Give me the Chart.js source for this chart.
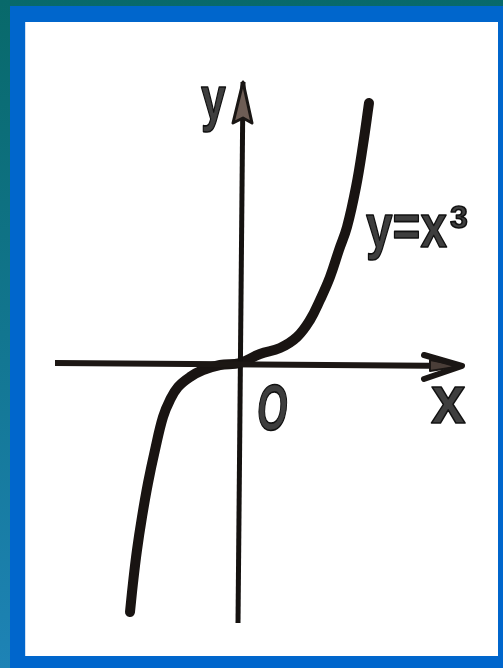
<!DOCTYPE html>
<html>
<head>
<meta charset="utf-8">
<script src="https://cdn.jsdelivr.net/npm/chart.js@4/dist/chart.umd.min.js"></script>
<style>
  html, body { margin:0; padding:0; width:503px; height:668px; overflow:hidden; }
  body { background: linear-gradient(180deg, #08696a 0%, #127690 50%, #1e83b6 100%); position:relative; }
  #blue { position:absolute; left:10px; top:6px; right:0; bottom:0; background:#0066cc; }
  #white { position:absolute; left:26px; top:22px; width:472px; height:634px; background:#ffffff; box-shadow:-1px 0 0 #cfe0f4; }
  #c { position:absolute; left:0; top:0; }
</style>
</head>
<body>
<div id="blue"></div>
<div id="white"></div>
<canvas id="c" width="503" height="668"></canvas>
<script>
// ---- data (units; origin at the axes' crossing) ----
const curveX = [-2.75, -2.675, -2.575, -2.45, -2.3, -2.125, -1.925, -1.75, -1.55, -1.25, -0.925, -0.5, 0, 0.5, 1.0, 1.425, 1.75, 2.0, 2.25, 2.475, 2.675, 2.9, 3.075, 3.225];
const curveY = [-6.225, -5.5, -4.675, -3.85, -3.0, -2.175, -1.35, -0.925, -0.6, -0.35, -0.175, -0.05, 0, 0.225, 0.375, 0.65, 1.075, 1.575, 2.15, 2.825, 3.4, 4.4, 5.45, 6.5];
const xAxisX = [-4.625, 5.55];
const xAxisY = [0, -0.075];
const yAxisX = [-0.05, 0.075];
const yAxisY = [-6.5, 7.025];
const curveLabel = "y=x";
const curveExp = "3";
const xAxisName = "x";
const yAxisName = "y";
const originName = "O";

const toPts = (xs, ys) => xs.map((x, i) => ({x, y: ys[i]}));
const curvePts = toPts(curveX, curveY);
const xAxisPts = toPts(xAxisX, xAxisY);
const yAxisPts = toPts(yAxisX, yAxisY);

const arrowsAndText = {
  id: 'arrowsAndText',
  afterDatasetsDraw(chart) {
    const ctx = chart.ctx, sx = chart.scales.x, sy = chart.scales.y;
    const px = v => sx.getPixelForValue(v), py = v => sy.getPixelForValue(v);
    ctx.save();
    // x arrow (chevron)
    const n = xAxisPts.length;
    const tx = px(xAxisPts[n-1].x), ty = py(xAxisPts[n-1].y);
    ctx.lineCap = 'round'; ctx.lineJoin = 'round';
    ctx.fillStyle = '#4a3e38'; ctx.strokeStyle = '#1a1614';
    ctx.beginPath(); ctx.moveTo(tx, ty); ctx.lineTo(tx-32, ty-6); ctx.lineTo(tx-32, ty+5); ctx.closePath();
    ctx.fill(); ctx.lineWidth = 2; ctx.stroke();
    ctx.lineWidth = 6;
    ctx.beginPath(); ctx.moveTo(tx-38, ty-11); ctx.lineTo(tx, ty); ctx.lineTo(tx-38, ty+13); ctx.stroke();
    // y arrow (filled triangle)
    const m = yAxisPts.length;
    const ux = px(yAxisPts[m-1].x), uy = py(yAxisPts[m-1].y);
    ctx.fillStyle = '#6e5d55'; ctx.strokeStyle = '#1a1614'; ctx.lineWidth = 3;
    ctx.beginPath(); ctx.moveTo(ux, uy); ctx.lineTo(ux-10, uy+41); ctx.lineTo(ux, uy+36); ctx.lineTo(ux+9, uy+41); ctx.closePath();
    ctx.fill(); ctx.stroke();

    // labels
    ctx.fillStyle = '#3e3e3e'; ctx.strokeStyle = '#111'; ctx.lineWidth = 1.6;
    ctx.textBaseline = 'alphabetic'; ctx.textAlign = 'left';
    const txt = (s, x, y, font, hs) => {
      ctx.save(); ctx.translate(x, y); ctx.scale(hs, 1); ctx.font = font;
      ctx.fillText(s, 0, 0); ctx.strokeText(s, 0, 0); ctx.restore();
    };
    const fam = '"Liberation Sans"';
    txt(yAxisName, 201, 119, 'bold 62px ' + fam, 0.72);
    txt(curveLabel, 366, 247, 'bold 62px ' + fam, 0.77);
    txt(curveExp, 450, 228, 'bold 32px ' + fam, 1.0);
    txt(originName, 257, 430, 'italic bold 65px ' + fam, 0.6);
    txt(xAxisName, 431, 423, 'bold 69px ' + fam, 0.9);
    ctx.restore();
  }
};

new Chart(document.getElementById('c'), {
  type: 'scatter',
  data: {
    datasets: [
      { data: xAxisPts, showLine: true, borderColor: '#1c1714', borderWidth: 6, pointRadius: 0, borderCapStyle: 'butt' },
      { data: xAxisPts, showLine: true, borderColor: '#62564f', borderWidth: 2, pointRadius: 0 },
      { data: yAxisPts, showLine: true, borderColor: '#151210', borderWidth: 5, pointRadius: 0 },
      { data: curvePts, showLine: true, borderColor: '#191412', borderWidth: 10, pointRadius: 0, tension: 0.4, borderCapStyle: 'round' },
      { data: curvePts, showLine: true, borderColor: '#72655c', borderWidth: 6, pointRadius: 0, tension: 0.4, borderCapStyle: 'round' }
    ]
  },
  options: {
    responsive: false,
    animation: false,
    layout: { padding: 0 },
    plugins: { legend: { display: false }, tooltip: { enabled: false } },
    scales: {
      x: { type: 'linear', display: false, min: -6.0, max: 6.575 },
      y: { type: 'linear', display: false, min: -7.625, max: 9.075 }
    }
  },
  plugins: [arrowsAndText]
});
</script>
</body>
</html>
